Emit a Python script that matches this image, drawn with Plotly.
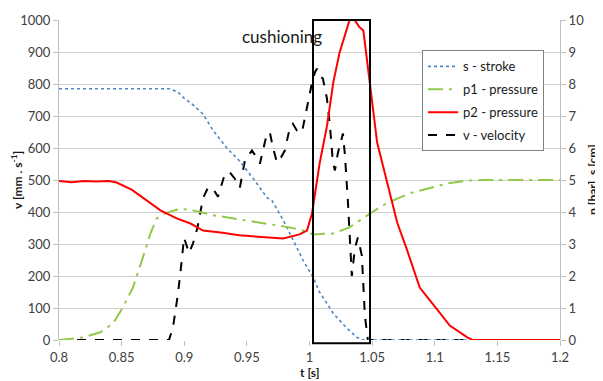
import plotly.graph_objects as go

# ---- data ----
t_s = [0.8, 0.888, 0.895, 0.900, 0.907, 0.915, 0.923, 0.934, 0.944, 0.955, 0.966, 0.970,
       0.979, 0.987, 0.995, 1.003, 1.008, 1.019, 1.030, 1.038, 1.043, 1.2]
s_stroke = [7.85, 7.85, 7.75, 7.55, 7.35, 7.06, 6.55, 6.0, 5.6, 5.05, 4.45, 4.36,
            3.75, 3.11, 2.48, 1.95, 1.5, 0.83, 0.36, 0.08, 0.0, 0.0]

t_p1 = [0.8, 0.819, 0.833, 0.843, 0.851, 0.859, 0.867, 0.873, 0.878, 0.886, 0.897, 0.907,
        0.923, 0.944, 0.966, 0.984, 0.995, 1.003, 1.019, 1.032, 1.046, 1.058, 1.070,
        1.082, 1.110, 1.126, 1.14, 1.2]
p1 = [0.0, 0.08, 0.24, 0.51, 1.02, 1.64, 2.58, 3.33, 3.8, 3.98, 4.1, 4.05,
      3.9, 3.77, 3.64, 3.52, 3.42, 3.3, 3.33, 3.52, 3.89, 4.2, 4.42,
      4.61, 4.89, 4.98, 5.0, 5.0]

t_p2 = [0.8, 0.81, 0.82, 0.83, 0.84, 0.846, 0.858, 0.870, 0.881, 0.894, 0.905, 0.915,
        0.929, 0.944, 0.966, 0.979, 0.992, 0.998, 1.002, 1.004, 1.008, 1.014, 1.019,
        1.024, 1.030, 1.032, 1.036, 1.040, 1.043, 1.048, 1.054, 1.062, 1.070, 1.078,
        1.088, 1.102, 1.112, 1.126, 1.13, 1.2]
p2 = [4.97, 4.93, 4.97, 4.95, 4.97, 4.92, 4.7, 4.36, 4.05, 3.8, 3.64, 3.42,
      3.36, 3.27, 3.2, 3.17, 3.3, 3.42, 3.95, 4.45, 5.5, 6.7, 8.05,
      8.98, 9.73, 10.0, 10.0, 9.77, 9.67, 8.05, 6.17, 4.92, 3.67, 2.8,
      1.64, 0.95, 0.45, 0.08, 0.0, 0.0]

t_v = [0.8, 0.8878, 0.891, 0.895, 0.898, 0.8998, 0.9038, 0.907, 0.9105, 0.9149, 0.9189,
       0.9229, 0.9269, 0.9325, 0.9365, 0.9404, 0.9444, 0.9484, 0.954, 0.958, 0.9604,
       0.966, 0.9684, 0.9708, 0.974, 0.9772, 0.9803, 0.9843, 0.9867, 0.9899, 0.9939,
       0.9963, 0.9987, 1.0019, 1.0043, 1.0059, 1.0075, 1.0107, 1.0139, 1.0163, 1.0187,
       1.0203, 1.0227, 1.0267, 1.0283, 1.0307, 1.0338, 1.0362, 1.0386, 1.0418, 1.0442,
       1.0466, 1.2]
v = [0, 0, 39, 145, 248, 320, 272, 302, 350, 442, 476,
     473, 448, 520, 523, 504, 476, 561, 592, 570, 551,
     645, 648, 602, 555, 570, 592, 664, 676, 655, 648,
     695, 748, 802, 836, 848, 826, 817, 755, 670, 555,
     530, 585, 645, 577, 430, 200, 286, 320, 264, 77,
     0, 0]

names = ["s - stroke", "p1 - pressure", "p2 - pressure", "v - velocity"]
x_ticks = [0.8, 0.85, 0.9, 0.95, 1.0, 1.05, 1.1, 1.15, 1.2]
cushion_t = [1.0028, 1.0483]

FONT = "Lato"
fig = go.Figure()
fig.add_trace(go.Scatter(x=t_s, y=s_stroke, name=names[0], yaxis="y2", mode="lines",
                         line=dict(color="#4f86c6", width=1.6, dash="dot"), legendgroup="a"))
fig.add_trace(go.Scatter(x=t_p1, y=p1, name=names[1], yaxis="y2", mode="lines",
                         line=dict(color="#92c94a", width=2, dash="longdashdot"), legendgroup="b"))
fig.add_trace(go.Scatter(x=t_p2, y=p2, name=names[2], yaxis="y2", mode="lines",
                         line=dict(color="#ff0000", width=2), legendgroup="c"))
fig.add_trace(go.Scatter(x=t_v, y=v, name=names[3], yaxis="y", mode="lines",
                         line=dict(color="#000000", width=2, dash="dash"), legendgroup="d"))

fig.add_shape(type="rect", xref="x", yref="paper", x0=cushion_t[0], x1=cushion_t[1],
              y0=-0.01, y1=1.0, line=dict(color="black", width=2), layer="above")
fig.add_annotation(x=0.978, y=0.947, xref="x", yref="paper", text="cushioning",
                   showarrow=False, xanchor="center", yanchor="middle",
                   font=dict(family=FONT, size=17, color="#1a1a1a"))

title_font = dict(family=FONT, size=12, color="#1a1a1a")
fig.add_annotation(x=0.5, y=-0.1, xref="paper", yref="paper", text="<b>t [s]</b>",
                   showarrow=False, xanchor="center", yanchor="middle", font=title_font)
fig.add_annotation(x=-0.084, y=0.5, xref="paper", yref="paper",
                   text="<b>v [mm . s<sup>-1</sup>]</b>", textangle=-90,
                   showarrow=False, xanchor="center", yanchor="middle", font=title_font)
fig.add_annotation(x=1.064, y=0.5, xref="paper", yref="paper",
                   text="<b>p [bar], s [cm]</b>", textangle=-90,
                   showarrow=False, xanchor="center", yanchor="middle", font=title_font)

tickfont = dict(family=FONT, size=13, color="#404040")
# the page body adds an 8px offset, so the figure is shrunk by the same amount
fig.update_layout(
    width=595, height=373,
    margin=dict(l=51, r=43, t=12, b=41, autoexpand=False),
    paper_bgcolor="white", plot_bgcolor="white",
    showlegend=True,
    legend=dict(x=0.7246, y=0.905, xanchor="left", yanchor="top",
                bgcolor="white", bordercolor="#808080", borderwidth=1,
                font=dict(family=FONT, size=13, color="#1a1a1a"),
                tracegroupgap=3, traceorder="grouped"),
    xaxis=dict(range=[0.8, 1.2], tickvals=x_ticks, showgrid=False, zeroline=False,
               showline=False, ticks="outside", ticklen=5, tickcolor="#bfbfbf",
               tickfont=tickfont, automargin=False),
    yaxis=dict(range=[0, 1000], dtick=100, showgrid=True, gridcolor="#cfcfcf", gridwidth=1,
               zeroline=False, showline=True, linecolor="#bfbfbf", ticks="outside",
               ticklen=5, tickcolor="#bfbfbf", tickfont=tickfont, automargin=False),
    yaxis2=dict(range=[0, 10], dtick=1, overlaying="y", side="right", showgrid=False,
                zeroline=False, showline=True, linecolor="#bfbfbf", ticks="outside",
                ticklen=5, tickcolor="#bfbfbf", tickfont=tickfont, automargin=False),
)

fig.write_html("out.html")
